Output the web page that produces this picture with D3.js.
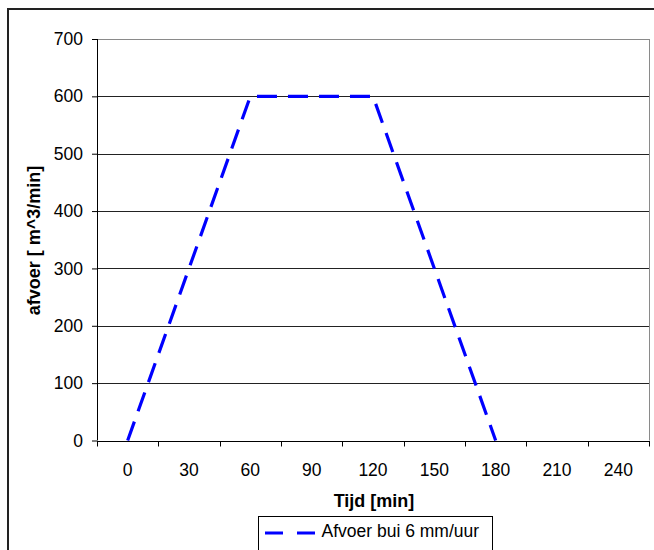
<!DOCTYPE html>
<html>
<head>
<meta charset="utf-8">
<script src="https://cdn.jsdelivr.net/npm/d3@7/dist/d3.min.js"></script>
<style>
  html, body { margin: 0; padding: 0; background: #fff; }
  svg { display: block; font-family: "Liberation Sans", Arial, sans-serif; }
</style>
</head>
<body>
<svg id="chart" width="654" height="550"></svg>
<script>
// Time categories (minutes) and runoff values (m^3/min)
const categories = ["0", "30", "60", "90", "120", "150", "180", "210", "240"];
const afvoer = [0, 300, 600, 600, 600, 300, 0, null, null];
const yTicks = [0, 100, 200, 300, 400, 500, 600, 700];
const seriesName = "Afvoer bui 6 mm/uur";

const svg = d3.select("#chart");
const plot = { left: 97, right: 649, top: 39, bottom: 440.5 };
const labelSize = 17.5;
const titleSize = 18;

// Outer chart frame
svg.append("rect")
  .attr("x", 8).attr("y", 9)
  .attr("width", 660).attr("height", 560)
  .attr("fill", "#fff").attr("stroke", "#222").attr("stroke-width", 2);

const x = d3.scaleBand().domain(categories).range([plot.left, plot.right]).padding(0);
const y = d3.scaleLinear().domain([0, 700]).range([plot.bottom, plot.top]);

// Horizontal gridlines
svg.append("g").selectAll("line")
  .data(yTicks.filter(v => v > 0))
  .join("line")
  .attr("x1", plot.left).attr("x2", plot.right)
  .attr("y1", d => Math.round(y(d)) + 0.5).attr("y2", d => Math.round(y(d)) + 0.5)
  .attr("stroke", d => d === 700 ? "#8a8a8a" : "#222")
  .attr("stroke-width", 1);

// Right edge of the plot area
svg.append("line")
  .attr("x1", plot.right + 0.5).attr("x2", plot.right + 0.5)
  .attr("y1", plot.top).attr("y2", plot.bottom)
  .attr("stroke", "#8a8a8a");

// Y axis
const yAxis = svg.append("g")
  .attr("transform", `translate(${plot.left},0)`)
  .call(d3.axisLeft(y).tickValues(yTicks).tickSize(5).tickPadding(9))
  .attr("font-family", "Liberation Sans, Arial, sans-serif")
  .attr("font-size", labelSize);
yAxis.select(".domain").attr("stroke", "#000").attr("d", `M0.5,${plot.top}V${plot.bottom}`);
yAxis.selectAll(".tick line").attr("stroke", "#000");
yAxis.selectAll(".tick text").attr("fill", "#000");

// X axis: ticks at category boundaries, labels centred in each band
const xg = svg.append("g").attr("transform", `translate(0,${Math.round(plot.bottom) + 0.5})`);
xg.append("line").attr("x1", plot.left).attr("x2", plot.right + 1).attr("stroke", "#000");
const bounds = categories.map(c => x(c)).concat([plot.right]);
xg.selectAll("line.tick").data(bounds).join("line")
  .attr("class", "tick")
  .attr("x1", d => Math.round(d) + 0.5).attr("x2", d => Math.round(d) + 0.5)
  .attr("y1", 0).attr("y2", 5).attr("stroke", "#000");
xg.selectAll("text").data(categories).join("text")
  .attr("x", d => x(d) + x.bandwidth() / 2)
  .attr("y", 34.5)
  .attr("text-anchor", "middle")
  .attr("font-size", labelSize)
  .attr("fill", "#000")
  .text(d => d);

// Axis titles
svg.append("text")
  .attr("x", 374).attr("y", 506.5)
  .attr("text-anchor", "middle")
  .attr("font-size", titleSize).attr("font-weight", "bold")
  .text("Tijd [min]");
svg.append("text")
  .attr("transform", "translate(39.5,240.5) rotate(-90)")
  .attr("text-anchor", "middle")
  .attr("font-size", titleSize).attr("font-weight", "bold")
  .text("afvoer [ m^3/min]");

// Runoff series
const line = d3.line()
  .defined(d => d.v !== null)
  .x(d => x(d.c) + x.bandwidth() / 2)
  .y(d => y(d.v));
svg.append("path")
  .datum(categories.map((c, i) => ({ c, v: afvoer[i] })))
  .attr("d", line)
  .attr("fill", "none")
  .attr("stroke", "#0000ff")
  .attr("stroke-width", 3.2)
  .attr("stroke-dasharray", "20,11");

// Legend
const lg = svg.append("g").attr("transform", "translate(258,516)");
lg.append("rect").attr("x", 0.5).attr("y", 0.5).attr("width", 234).attr("height", 34)
  .attr("fill", "#fff").attr("stroke", "#000");
lg.append("line").attr("x1", 7).attr("x2", 58).attr("y1", 17).attr("y2", 17)
  .attr("stroke", "#0000ff").attr("stroke-width", 3.2).attr("stroke-dasharray", "18,14");
lg.append("text").attr("x", 63.5).attr("y", 21).attr("font-size", labelSize).text(seriesName);
</script>
</body>
</html>
